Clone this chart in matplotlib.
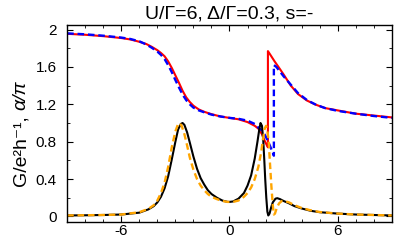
import numpy as np
import matplotlib.pyplot as plt
from matplotlib.ticker import MultipleLocator

plt.rcParams['font.family'] = ['Liberation Sans', 'DejaVu Sans']

# conductance, solid red
g_x = [-9.0, -8.0, -7.0, -6.0, -5.5, -5.0, -4.6, -4.3, -4.0, -3.8, -3.6, -3.4,
       -3.2, -3.0, -2.8, -2.6, -2.4, -2.2, -2.0, -1.7, -1.4, -1.0,
       -0.5, 0.0, 0.5, 1.0, 1.4, 1.6, 1.8, 1.95, 2.05, 2.13, 2.13, 2.3, 2.5, 2.7,
       3.0, 3.4, 3.8, 4.3, 4.8, 5.3, 6.0, 7.0, 8.0, 9.0]
g_y = [1.955, 1.945, 1.93, 1.91, 1.895, 1.87, 1.845, 1.815, 1.78, 1.75, 1.715, 1.66,
       1.59, 1.51, 1.43, 1.345, 1.275, 1.225, 1.185, 1.145, 1.12, 1.095,
       1.07, 1.055, 1.04, 1.01, 0.97, 0.94, 0.88, 0.81, 0.77, 0.74, 1.77, 1.72, 1.66, 1.605,
       1.52, 1.40, 1.31, 1.24, 1.195, 1.16, 1.135, 1.10, 1.08, 1.06]

# conductance, dashed blue
g2_x = [-9.0, -8.0, -7.0, -6.0, -5.5, -5.0, -4.6, -4.3, -4.0, -3.8, -3.6, -3.4,
        -3.2, -3.0, -2.8, -2.6, -2.4, -2.2, -2.0, -1.7, -1.4, -1.0, -0.5, 0.0,
        0.5, 1.0, 1.4, 1.6, 1.8, 1.94, 2.1, 2.3, 2.46, 2.46, 2.6, 2.8, 3.0, 3.4,
        3.8, 4.3, 4.8, 5.3, 6.0, 7.0, 8.0, 9.0]
g2_y = [1.96, 1.95, 1.935, 1.915, 1.90, 1.875, 1.84, 1.805, 1.765, 1.73, 1.685, 1.62,
        1.545, 1.46, 1.38, 1.305, 1.245, 1.20, 1.165, 1.135, 1.115, 1.09, 1.07, 1.055,
        1.045, 1.025, 0.99, 0.95, 0.92, 0.88, 0.82, 0.73, 0.65, 1.62, 1.60, 1.55, 1.50, 1.41,
        1.32, 1.245, 1.195, 1.16, 1.13, 1.10, 1.075, 1.055]

# alpha/pi, solid black
a_x = [-9.0, -8.0, -7.0, -6.0, -5.5, -5.0, -4.5, -4.2, -4.0, -3.8, -3.6, -3.4,
       -3.2, -3.0, -2.85, -2.7, -2.6, -2.5, -2.35, -2.2, -2.0, -1.8, -1.6, -1.4,
       -1.2, -1.0, -0.7, -0.4, -0.1, 0.0, 0.2, 0.5, 0.8, 1.0, 1.2, 1.4, 1.55,
       1.65, 1.72, 1.80, 1.87, 1.93, 1.98, 2.04, 2.10, 2.15, 2.22, 2.30, 2.40,
       2.55, 2.65, 2.8, 3.0, 3.3, 3.6, 4.0, 4.5, 5.0, 6.0, 7.0, 8.0, 9.0]
a_y = [0.01, 0.012, 0.015, 0.02, 0.03, 0.04, 0.075, 0.11, 0.15, 0.21, 0.30, 0.43,
       0.61, 0.80, 0.93, 0.99, 1.0, 0.98, 0.90, 0.79, 0.64, 0.51, 0.41, 0.34,
       0.28, 0.24, 0.20, 0.17, 0.155, 0.155, 0.16, 0.19, 0.25, 0.33, 0.44, 0.62, 0.80,
       0.93, 1.0, 0.97, 0.82, 0.60, 0.40, 0.20, 0.05, 0.01, 0.03, 0.09, 0.15,
       0.19, 0.195, 0.185, 0.165, 0.14, 0.11, 0.085, 0.06, 0.045, 0.03, 0.02, 0.015, 0.01]

# alpha/pi, dashed orange
a2_x = [-9.0, -7.0, -6.0, -5.0, -4.5, -4.2, -4.0, -3.8, -3.6, -3.4, -3.2, -3.0,
        -2.85, -2.78, -2.65, -2.5, -2.35, -2.2, -2.0, -1.8, -1.6, -1.4, -1.2, -1.0,
        -0.7, -0.4, -0.1, 0.2, 0.5, 0.8, 1.0, 1.2, 1.4, 1.6, 1.75, 1.85, 1.95,
        2.03, 2.10, 2.18, 2.25, 2.32, 2.40, 2.46, 2.52, 2.62, 2.75, 2.9, 3.05,
        3.3, 3.6, 4.0, 4.5, 5.0, 6.0, 7.0, 8.0, 9.0]
a2_y = [0.01, 0.015, 0.02, 0.045, 0.08, 0.12, 0.17, 0.25, 0.36, 0.53, 0.74, 0.91,
        0.99, 1.0, 0.97, 0.88, 0.76, 0.63, 0.50, 0.40, 0.33, 0.28, 0.24, 0.21,
        0.185, 0.165, 0.155, 0.155, 0.17, 0.21, 0.25, 0.31, 0.40, 0.53, 0.68, 0.82, 0.94,
        0.97, 0.93, 0.78, 0.55, 0.33, 0.12, 0.02, 0.03, 0.09, 0.14, 0.165, 0.165,
        0.15, 0.12, 0.09, 0.065, 0.047, 0.03, 0.02, 0.015, 0.01]

fig = plt.figure(figsize=(3.95, 2.4), dpi=100)
ax = fig.add_axes([0.170, 0.075, 0.822, 0.821])

ax.plot(g_x, g_y, color='red', lw=1.5)
ax.plot(g2_x, g2_y, color='blue', lw=1.7, dashes=(2.8, 1.6))
ax.plot(a_x, a_y, color='black', lw=1.5)
ax.plot(a2_x, a2_y, color='orange', lw=1.7, dashes=(2.8, 1.6))

ax.set_xlim(-9, 9)
ax.set_ylim(-0.06, 2.05)
ax.set_xticks([-6, 0, 6])
ax.set_xticklabels(['-6', '0', '6'])
ax.set_yticks([0, 0.4, 0.8, 1.2, 1.6, 2])
ax.set_yticklabels(['0', '0.4', '0.8', '1.2', '1.6', '2'])
ax.xaxis.set_minor_locator(MultipleLocator(1))
ax.yaxis.set_minor_locator(MultipleLocator(0.2))
ax.tick_params(which='both', direction='in', top=True, right=True, labelsize=11)
ax.tick_params(which='major', length=4, width=0.8)
ax.tick_params(which='minor', length=2.2, width=0.6)
ax.tick_params(axis='x', which='major', pad=1.5)
ax.tick_params(axis='y', which='major', pad=7.5)
for s in ax.spines.values():
    s.set_linewidth(1.0)

ax.set_title('U/\u0393=6, \u0394/\u0393=0.3, s=-', fontsize=14, pad=5)

# y label in two pieces: upright "G/e2h-1," and italic "alpha/pi"
lab_x = 25.5 / 395
lab_y = (240 - 186.5) / 240
lab1 = fig.text(lab_x, lab_y, 'G/e\u00b2h\u207b\u00b9,', fontsize=14, rotation=90,
                rotation_mode='anchor', ha='left', va='baseline')
fig.canvas.draw()
bb = lab1.get_window_extent()
fig.text(lab_x, (bb.y1 + 6) / fig.bbox.height, '\u03b1/\u03c0', fontsize=14,
         style='italic', rotation=90, rotation_mode='anchor', ha='left', va='baseline')

fig.savefig('out.png', dpi=100)
